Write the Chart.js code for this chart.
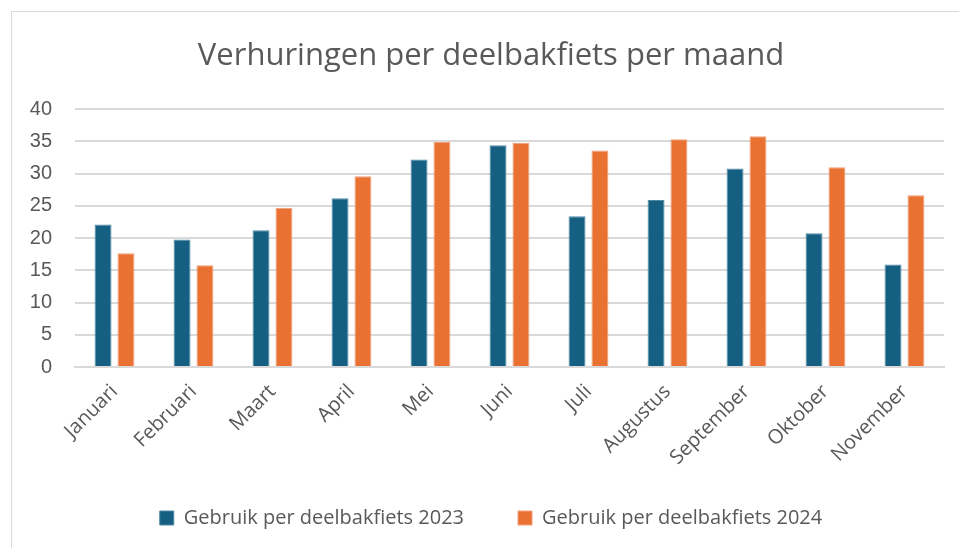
<!DOCTYPE html>
<html>
<head>
<meta charset="utf-8">
<script src="https://cdn.jsdelivr.net/npm/chart.js@4"></script>
<style>
  html, body { margin: 0; padding: 0; background: #fff; }
  #wrap { position: relative; width: 959px; height: 548px; overflow: hidden; }
  #frame { position: absolute; left: 11px; top: 11px; width: 980px; height: 580px; border: 1px solid #d9d9d9; pointer-events: none; }
</style>
</head>
<body>
<div id="wrap">
  <canvas id="chart" width="959" height="548"></canvas>
  <div id="frame"></div>
</div>
<script>
// chart data
var months = ["Januari", "Februari", "Maart", "April", "Mei", "Juni", "Juli", "Augustus", "September", "Oktober", "November"];
var use2023 = [22.1, 19.8, 21.2, 26.2, 32.2, 34.4, 23.4, 25.9, 30.8, 20.75, 15.9];
var use2024 = [17.65, 15.8, 24.7, 29.6, 34.9, 34.8, 33.6, 35.35, 35.8, 31.0, 26.65];
var yTicks = [0, 5, 10, 15, 20, 25, 30, 35, 40];

var textColor = "#595959";
var gridColor = "#d9d9d9";
var fontFamily = "'Open Sans', 'Liberation Sans', sans-serif";
var tickFamily = "'Liberation Sans', Arial, sans-serif";

var ctx = document.getElementById("chart");

var data = {
	labels: months,
	datasets: [
		{
			label: "Gebruik per deelbakfiets 2023",
			data: use2023,
			backgroundColor: "#156082",
			borderColor: "#4f8aa6",
			borderWidth: 1,
			barPercentage: 0.74,
			categoryPercentage: 0.58
		},
		{
			label: "Gebruik per deelbakfiets 2024",
			data: use2024,
			backgroundColor: "#e97132",
			borderColor: "#f0a07a",
			borderWidth: 1,
			barPercentage: 0.74,
			categoryPercentage: 0.58
		}
	]
};

// empty legend entry, only there to widen the gap between the two real ones
function legendSpacer() {
	return { text: "", fillStyle: "rgba(0,0,0,0)", strokeStyle: "rgba(0,0,0,0)", lineWidth: 0, hidden: false, datasetIndex: -1 };
}

var options = {
	responsive: false,
	animation: false,
	layout: {
		padding: { left: 23, right: 0, top: 0, bottom: 10 }
	},
	plugins: {
		title: {
			display: true,
			text: "Verhuringen per deelbakfiets per maand",
			color: textColor,
			font: { family: fontFamily, size: 31, weight: "normal" },
			padding: { top: 38, bottom: 34 }
		},
		legend: {
			position: "bottom",
			labels: {
				color: textColor,
				boxWidth: 14,
				boxHeight: 14,
				padding: 15,
				font: { family: fontFamily, size: 20 },
				generateLabels: function(chart) {
					var items = Chart.defaults.plugins.legend.labels.generateLabels(chart);
					return [items[0], legendSpacer(), items[1]];
				}
			}
		},
		tooltip: { enabled: false }
	},
	scales: {
		x: {
			grid: { display: false },
			border: { display: true, color: gridColor, width: 2 },
			ticks: {
				color: textColor,
				maxRotation: 45,
				minRotation: 45,
				padding: 5,
				font: { family: fontFamily, size: 20 }
			},
			afterFit: function(scale) { scale.height = 126; }
		},
		y: {
			min: 0,
			max: 40,
			afterBuildTicks: function(scale) {
				scale.ticks = yTicks.map(function(v) { return { value: v }; });
			},
			grid: { color: gridColor, lineWidth: 2, drawTicks: false },
			border: { display: false },
			ticks: {
				color: textColor,
				padding: 23,
				font: { family: tickFamily, size: 20 }
			},
			afterFit: function(scale) { scale.width = 52; }
		},
		// empty spacer on the right so the plot ends where the original does
		spacer: {
			position: "right",
			grid: { display: false },
			border: { display: false },
			ticks: { display: false },
			afterFit: function(scale) { scale.width = 15; }
		}
	}
};

var chart = new Chart(ctx, {
	type: "bar",
	data: data,
	options: options
});
</script>
</body>
</html>
